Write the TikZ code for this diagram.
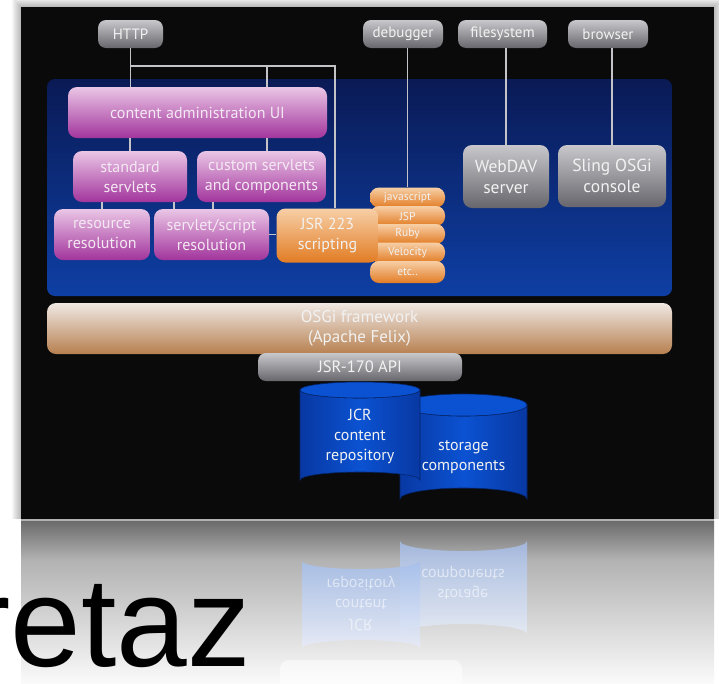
\documentclass[tikz,border=0pt]{standalone}
\usepackage{fontspec}
\setmainfont{PT Sans}
\newfontfamily\titlefont{Liberation Sans}
\usepackage{tikz}

\definecolor{slideBlack}{HTML}{0A0A0A}
\definecolor{panelTop}{HTML}{0A1A55}
\definecolor{panelBot}{HTML}{0E3FA4}
\definecolor{wireGrey}{HTML}{C4C4C8}
\definecolor{pillTop}{HTML}{C8C8CC}
\definecolor{pillBot}{HTML}{66666C}
\definecolor{pinkTop}{HTML}{EAC6E6}
\definecolor{pinkBot}{HTML}{A2349C}
\definecolor{pinkText}{HTML}{F4E8F2}
\definecolor{orangeTop}{HTML}{F7CFA6}
\definecolor{orangeBot}{HTML}{E27C24}
\definecolor{osgiTop}{HTML}{EFE8E4}
\definecolor{osgiBot}{HTML}{B7804F}
\definecolor{textWhite}{HTML}{F2F2F2}
\definecolor{cylEdge}{HTML}{0838A2}
\definecolor{cylMid}{HTML}{0B52D2}
\definecolor{cylLine}{HTML}{05266E}
\definecolor{mirrorTop}{HTML}{A6BFEC}
\definecolor{mirrorBot}{HTML}{E6ECF8}

\begin{document}
\begin{tikzpicture}[x=1pt,y=-1pt,
	wire/.style={draw=wireGrey,line width=1.2pt},
	pill/.style={rounded corners=8pt,top color=pillTop,bottom color=pillBot,text=textWhite,
		font=\fontsize{15}{16}\selectfont,minimum height=28pt,inner sep=0pt},
	greybox/.style={rounded corners=9pt,top color=pillTop,bottom color=pillBot,text=textWhite,
		font=\fontsize{17.5}{21}\selectfont,align=center,inner sep=0pt},
	pinkbox/.style={rounded corners=9pt,top color=pinkTop,bottom color=pinkBot,text=pinkText,
		font=\fontsize{16}{20}\selectfont,align=center,inner sep=0pt,minimum height=51pt},
	orangebox/.style={rounded corners=9pt,top color=orangeTop,bottom color=orangeBot,text=textWhite,
		font=\fontsize{16}{20}\selectfont,align=center,inner sep=0pt},
	langpill/.style={rounded corners=9pt,top color=orangeTop,bottom color=orangeBot,text=textWhite,
		font=\fontsize{11.5}{12}\selectfont,minimum width=75pt,minimum height=20pt,inner sep=0pt},
	cyltext/.style={text=textWhite,font=\fontsize{16}{20}\selectfont,align=center},
	mirrortext/.style={text=white,font=\fontsize{16}{20}\selectfont,align=center,yscale=-1,opacity=0.55},
	]

	\useasboundingbox (0,0) rectangle (719,683);
	\clip (0,0) rectangle (719,683);
	\fill[white] (0,0) rectangle (719,683);

	% shadow round the slide
	\foreach \s in {1,...,9}
		\fill[black,opacity=0.03] (21-\s,7-\s) rectangle (714+\s,519+\s);

	% reflection under the slide
	\fill[white] (12,519) rectangle (719,683);
	\shade[top color=black!58,bottom color=black!30] (21,521) rectangle (714,560);
	\shade[top color=black!30,bottom color=black!2] (21,560) rectangle (714,683);
	\fill[black!30] (21,519) rectangle (714,521);

	\shade[top color=mirrorTop,bottom color=mirrorBot,opacity=0.8]
		(400,634) -- (400,541) arc[start angle=180,end angle=0,x radius=63.5,y radius=10]
		-- (527,634) arc[start angle=0,end angle=-180,x radius=63.5,y radius=10] -- cycle;
	\shade[top color=mirrorTop,bottom color=mirrorBot,opacity=0.85]
		(302,648) -- (302,561) arc[start angle=180,end angle=0,x radius=59,y radius=8]
		-- (420,648) arc[start angle=0,end angle=-180,x radius=59,y radius=8] -- cycle;
	\fill[white,opacity=0.55,rounded corners=9pt] (280,660) rectangle (462,695);
	\node[mirrortext] (m_storage) at (463,583) {storage\\components};
	\node[mirrortext] (m_jcr) at (361,604) {JCR\\content\\repository};

	% the slide
	\fill[slideBlack] (21,7) rectangle (714,519);
	\shade[rounded corners=8pt,top color=panelTop,bottom color=panelBot] (47,79) rectangle (672,296);

	% outside clients
	\node[pill,minimum width=65pt] (http) at (130.5,34) {HTTP};
	\node[pill,minimum width=80pt] (debugger) at (403,34) {debugger};
	\node[pill,minimum width=89pt] (filesystem) at (502.5,34) {filesystem};
	\node[pill,minimum width=80pt] (browser) at (608,34) {browser};

	% sling
	\node[pinkbox,minimum width=259pt] (admin) at (197.5,112.5) {content administration UI};
	\node[pinkbox,minimum width=114pt] (standard) at (130,176.5) {standard\\servlets};
	\node[pinkbox,minimum width=129pt] (custom) at (261.5,176.5) {custom servlets\\and components};
	\node[pinkbox,minimum width=96pt] (resource) at (102,234.5) {resource\\resolution};
	\node[pinkbox,minimum width=115pt] (servlet) at (211.5,234.5) {servlet/script\\resolution};

	\node[langpill] (js) at (407.5,197.5) {javascript};
	\node[langpill] (jsp) at (407.5,216) {JSP};
	\node[langpill] (ruby) at (407.5,234) {Ruby};
	\node[langpill] (velocity) at (407.5,252.5) {Velocity};
	\node[langpill,minimum height=22pt] (etc) at (407.5,272) {etc..};
	\node[orangebox,minimum width=102pt,minimum height=54pt] (jsr) at (327.5,235.5) {JSR 223\\scripting};

	\node[greybox,minimum width=86pt,minimum height=63pt] (webdav) at (506,176.5) {WebDAV\\server};
	\node[greybox,minimum width=108pt,minimum height=62pt] (sling) at (612,176) {Sling OSGi\\console};

	% framework and repository
	\node[rounded corners=9pt,top color=osgiTop,bottom color=osgiBot,text=textWhite,
		font=\fontsize{17}{20}\selectfont,align=center,minimum width=625pt,minimum height=51pt,
		inner sep=0pt] (osgi) at (359.5,328.5) {OSGi framework\\(Apache Felix)};
	\node[pill,minimum width=204pt,font=\fontsize{16.5}{18}\selectfont] (jcrapi) at (360,367) {JSR-170 API};

	\shade[left color=cylEdge,right color=cylEdge,middle color=cylMid,draw=cylLine,line width=0.6pt]
		(400,405) -- (400,499) arc[start angle=180,end angle=360,x radius=63.5,y radius=11]
		-- (527,405) arc[start angle=0,end angle=180,x radius=63.5,y radius=11] -- cycle;
	\draw[cylLine,fill=cylMid,line width=0.6pt] (463.5,405) ellipse[x radius=63.5,y radius=11];
	\node[cyltext] (storage) at (463.5,457) {storage\\components};

	\shade[left color=cylEdge,right color=cylEdge,middle color=cylMid,draw=cylLine,line width=0.6pt]
		(300,390) -- (300,480) arc[start angle=180,end angle=360,x radius=60,y radius=8]
		-- (420,390) arc[start angle=0,end angle=180,x radius=60,y radius=8] -- cycle;
	\draw[cylLine,fill=cylMid,line width=0.6pt] (360,390) ellipse[x radius=60,y radius=8];
	\node[cyltext] (jcr) at (360,436) {JCR\\content\\repository};

	% connectors
	\coordinate (tap) at (267,66);
	\coordinate (split) at (335,66);
	\draw[wire] (http.south) -- (http.south |- admin.north);
	\draw[wire] (http.south |- split) -- (split) -- (split |- jsr.north);
	\draw[wire] (tap) -- (tap |- admin.north);
	\draw[wire] (standard.north |- admin.south) -- (standard.north);
	\draw[wire] (tap |- admin.south) -- (tap |- custom.north);
	\draw[wire] (resource.north |- standard.south) -- (resource.north);
	\draw[wire] (standard.south -| 174,0) -- (servlet.north -| 174,0);
	\draw[wire] (custom.south -| 213,0) -- (servlet.north -| 213,0);
	\draw[wire] (servlet.east) -- (servlet.east -| jsr.west);
	\draw[wire] (js.north |- debugger.south) -- (js.north);
	\draw[wire] (webdav.north |- filesystem.south) -- (webdav.north);
	\draw[wire] (sling.north |- browser.south) -- (sling.north);

	% title, cut by the left edge
	\node[anchor=base west,inner sep=0pt,font=\titlefont\fontsize{127}{127}\selectfont] (title) at (-32,666) {retaz};

\end{tikzpicture}
\end{document}
